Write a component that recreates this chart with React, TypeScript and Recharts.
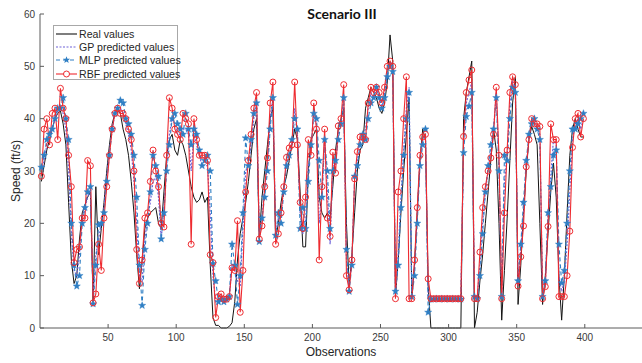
import { Line, LineChart, XAxis, YAxis } from "recharts";

// every 2nd observation, starting at 1
const real = [
  28, 31, 34, 36, 38, 40, 41, 41.5, 39, 35,
  24, 13, 8.5, 10, 17, 22, 23.5, 25, 26, 5,
  27, 14, 19, 24, 30, 35, 39, 41, 41.5, 41,
  38, 36, 33, 28, 22, 14, 7.5, 13, 19, 21,
  22, 22.5, 23, 20, 19, 26, 33, 36, 37, 34,
  33, 36, 35, 33, 30, 27, 25, 24, 24.5, 26,
  24, 25, 12, 2, 0.5, 0.5, 0, 0, 0, 0.3,
  1, 5, 13, 18, 21, 24, 28, 33, 38, 40,
  17, 25, 30, 35, 40, 42, 17, 20, 24, 27,
  29, 32, 35, 38, 36, 26, 15.5, 15.5, 30, 36,
  37, 38, 25, 22, 21, 22, 21, 27, 34, 38,
  40, 42, 20, 8, 14, 22, 30, 34, 35, 42,
  44, 46, 45, 44, 42, 41, 43, 47, 56, 51,
  6, 13, 22, 30, 37, 44, 5.6, 12, 22, 32,
  38, 36, 8, 0, 0, 0, 0, 0, 0, 0,
  0, 0, 0, 0, 0, 40, 45, 48, 51, 0,
  3, 9, 14, 20, 26, 32, 38, 34, 20, 1.5,
  11, 21, 32, 43, 48, 4.5, 12, 22, 30, 36,
  38.5, 37, 35, 20, 4.5, 10, 18, 26, 31.5, 25,
  10, 1.5, 10, 22, 33, 38, 40, 38, 36.5, 36.5,
];

const gp = [
  29.5, 32, 35, 36.5, 38, 40, 41.5, 42, 41, 38,
  30, 18, 11, 10, 14, 21, 23, 25, 26.5, 6,
  14, 17, 20, 23, 29, 34, 38, 41, 42, 42,
  41, 39, 37, 34, 28, 20, 10, 9, 17, 21,
  24, 28, 29, 25, 17, 23, 31, 37, 40, 39,
  37, 37, 38, 38, 37, 30, 37, 35, 33, 31,
  31, 31, 22, 10, 5, 5.5, 6, 5.5, 5.5, 6,
  12, 11, 9, 8, 19, 30, 31, 35, 40, 43,
  18, 21, 27, 31, 40, 44, 18, 21, 22, 27,
  31, 33, 35, 42, 37, 22, 18, 20, 31, 34,
  41, 39, 20, 25, 36, 26, 16, 31, 31, 37,
  39, 44, 13, 8, 13, 28, 32, 35, 37, 38,
  42, 45, 44, 46, 44, 42, 45, 49, 51, 50,
  6, 14, 25, 34, 42, 46, 5.8, 12, 22, 32,
  36, 37, 6, 5.6, 5.6, 5.6, 5.6, 5.6, 5.6, 5.6,
  5.6, 5.6, 5.6, 5.6, 5.6, 35, 43, 45, 47, 5.8,
  5.6, 12, 20, 26, 30, 34, 38, 45, 31, 5.8,
  28, 33, 43, 47, 46, 8, 15, 22, 31, 36,
  40, 40, 38, 37, 5.8, 8.5, 21, 29, 36, 35,
  10, 7, 9, 16, 26, 36, 39, 40, 38, 40,
];

const mlp = [
  30.7, 33, 36, 37, 38, 40, 42, 42, 44, 40,
  36, 20, 12, 8, 10, 20, 23, 26, 27, 4.6,
  12, 19.7, 20, 22, 28, 33, 38, 41, 42, 43.5,
  43, 40, 39, 37, 33, 25, 12, 4.3, 15, 20,
  26, 33, 31, 29, 17, 22, 30, 35, 40, 41,
  39, 38, 37, 41, 38, 35, 38, 37, 34, 31,
  32, 33, 30, 12.3, 9, 5, 5.5, 5, 5.5, 6,
  16, 12, 4.5, 10, 22, 36.3, 31, 36, 41, 43,
  16.5, 21, 25, 30, 38, 44, 17.7, 22, 20, 26,
  31, 33, 36, 40, 38, 19, 23, 19, 28, 35,
  41, 40, 32, 25, 36, 30, 19, 30, 32, 36,
  39, 44, 15, 7, 12, 29, 31, 35, 37, 36,
  40, 43, 44, 46, 44, 42, 44, 48, 50, 49,
  7, 12, 23, 33, 40, 45, 6, 10, 20, 31,
  35, 38, 3, 5.5, 5.5, 5.6, 5.5, 5.6, 5.5, 5.6,
  5.5, 5.6, 5.5, 5.6, 5.5, 33.5, 40.4, 42.4, 45, 6,
  5.6, 10, 18, 26, 31, 35, 38, 44, 30, 6,
  33, 32, 40, 46, 45, 9, 16, 24, 32, 37,
  39, 40, 38, 36, 6, 9, 22, 27, 33, 34,
  16, 8.6, 11, 20, 30, 38, 38, 39, 40, 41,
];

const rbf = [
  29, 38, 40, 35, 41, 42, 36, 45.8, 42, 40,
  33, 27, 12.5, 15, 15.5, 21, 21, 32, 31, 4.8,
  6.5, 16, 11, 21, 27, 33, 38, 41, 42, 41,
  41, 40, 38, 36, 30, 15, 8.5, 13, 21, 22,
  28, 34, 30, 27, 20, 19.3, 33, 44, 42, 38,
  37, 36, 41, 40, 39, 16, 40, 36, 33, 33,
  33, 32, 14, 12.5, 2, 6, 6.5, 5.5, 5.5, 6,
  11.5, 11, 20.5, 3, 11, 26, 32, 37, 42, 45,
  17, 19.5, 27, 32.5, 43, 47, 16, 18, 22, 27,
  32.6, 34.4, 35, 47, 35, 24, 19, 25, 36, 33,
  43, 38, 13, 27, 38, 21, 17.5, 33.6, 29.6, 38.6,
  40, 46.5, 10, 7.3, 13, 28.5, 33.7, 36.5, 36.5, 36,
  43, 46, 45, 46, 45, 43, 46, 50, 51, 50,
  5.6, 26, 30, 40, 48, 5.6, 5.6, 13, 23, 33,
  36.5, 37, 9.4, 5.6, 5.6, 5.6, 5.6, 5.6, 5.6, 5.6,
  5.6, 5.6, 5.6, 5.6, 5.6, 36.6, 45, 47.4, 49.3, 5.6,
  5.6, 14.5, 23, 27, 30, 32.5, 37, 46, 33, 5.6,
  22, 34, 45, 48, 46.5, 8, 13.6, 19.5, 30.8, 36,
  40, 39, 39, 38.5, 5.6, 7.9, 19.4, 39, 36, 36,
  6, 6, 6, 10, 18.5, 34.5, 40, 41, 36.5, 40,
];

const xTicks = [50, 100, 150, 200, 250, 300, 350, 400];
const yTicks = [0, 10, 20, 30, 40, 50, 60];

const data = real.map((v, i) => ({
  obs: 1 + 2 * i,
  real: v,
  gp: gp[i],
  mlp: mlp[i],
  rbf: rbf[i],
}));

const AXIS = "#5a5a5a";
const TEXT = "#3a3a3a";
const FONT = '"Liberation Sans", Arial, Helvetica, sans-serif';
const C_REAL = "#151515";
const C_GP = "#6f63d8";
const C_MLP = "#2f7fc4";
const C_RBF = "#ee2b30";

function starPath(cx: number, cy: number, r: number) {
  const pts: string[] = [];
  for (let k = 0; k < 10; k++) {
    const rad = k % 2 === 0 ? r : r * 0.42;
    const a = -Math.PI / 2 + (k * Math.PI) / 5;
    pts.push(`${cx + rad * Math.cos(a)},${cy + rad * Math.sin(a)}`);
  }
  return `M${pts.join("L")}Z`;
}

function StarDot(props: any) {
  const { cx, cy, index } = props;
  if (cx == null || cy == null) return <g key={`s${index}`} />;
  return <path key={`s${index}`} d={starPath(cx, cy, 3.8)} fill={C_MLP} stroke={C_MLP} strokeWidth={0.4} />;
}

function CircleDot(props: any) {
  const { cx, cy, index } = props;
  if (cx == null || cy == null) return <g key={`c${index}`} />;
  return <circle key={`c${index}`} cx={cx} cy={cy} r={3} fill="none" stroke={C_RBF} strokeWidth={1} />;
}

function YTick(props: any) {
  const { x, y, payload } = props;
  const ax = x + 5;
  return (
    <g>
      <line x1={ax} x2={ax + 4} y1={y} y2={y} stroke={AXIS} />
      <text x={x} y={y} dy="0.36em" textAnchor="end" fontSize={10} fill={TEXT} fontFamily={FONT}>
        {payload.value}
      </text>
    </g>
  );
}

function XTick(props: any) {
  const { x, y, payload } = props;
  const ay = y - 5;
  return (
    <g>
      <line x1={x} x2={x} y1={ay} y2={ay - 4} stroke={AXIS} />
      <text x={x} y={y} dy="0.75em" textAnchor="middle" fontSize={10} fill={TEXT} fontFamily={FONT}>
        {payload.value}
      </text>
    </g>
  );
}

function LegendBox() {
  const rows = [
    { label: "Real values", color: C_REAL, dash: undefined, mark: null },
    { label: "GP predicted values", color: C_GP, dash: "2 1.5", mark: null },
    { label: "MLP predicted values", color: C_MLP, dash: "4 3", mark: "star" },
    { label: "RBF predicted values", color: C_RBF, dash: undefined, mark: "circle" },
  ];
  return (
    <div
      style={{
        position: "absolute",
        left: 53,
        top: 25,
        width: 125,
        height: 55,
        border: "1px solid #a8a8a8",
        background: "#fff",
        fontFamily: FONT,
        fontSize: 10.6,
        color: "#262626",
        boxSizing: "border-box",
        paddingTop: 1,
      }}
    >
      {rows.map((r) => (
        <div key={r.label} style={{ display: "flex", alignItems: "center", height: 13.3 }}>
          <svg width={25} height={12} style={{ flex: "none" }}>
            <line x1={2} x2={23} y1={6} y2={6} stroke={r.color} strokeWidth={1.1} strokeDasharray={r.dash} />
            {r.mark === "star" && <path d={starPath(12.5, 6, 3.8)} fill={r.color} />}
            {r.mark === "circle" && <circle cx={12.5} cy={6} r={3} fill="#fff" stroke={r.color} />}
          </svg>
          <span style={{ marginLeft: 0, whiteSpace: "nowrap" }}>{r.label}</span>
        </div>
      ))}
    </div>
  );
}

export default function App() {
  return (
    <div style={{ position: "relative", width: 642, height: 363, background: "#fff" }}>
      <style>{"body{margin:0;background:#fff}"}</style>
      <LineChart width={642} height={363} data={data} margin={{ top: 14, right: 0, bottom: 0, left: 0 }}>
        <XAxis
          dataKey="obs"
          type="number"
          domain={[0, 442]}
          ticks={xTicks}
          interval={0}
          height={35}
          stroke={AXIS}
          tickLine={false}
          tickSize={0}
          tickMargin={5}
          tick={<XTick />}
        />
        <YAxis
          type="number"
          domain={[0, 60]}
          ticks={yTicks}
          interval={0}
          width={40}
          stroke={AXIS}
          tickLine={false}
          tickSize={0}
          tickMargin={5}
          tick={<YTick />}
        />
        <Line dataKey="real" stroke={C_REAL} strokeWidth={1} dot={false} isAnimationActive={false} />
        <Line
          dataKey="gp"
          stroke={C_GP}
          strokeWidth={1.2}
          strokeDasharray="2 1.5"
          dot={false}
          isAnimationActive={false}
        />
        <Line
          dataKey="mlp"
          stroke={C_MLP}
          strokeWidth={1.1}
          strokeDasharray="4 3"
          dot={StarDot}
          isAnimationActive={false}
        />
        <Line dataKey="rbf" stroke={C_RBF} strokeWidth={1.1} dot={CircleDot} isAnimationActive={false} />
      </LineChart>
      <div
        style={{
          position: "absolute",
          left: 0,
          width: 684,
          top: 6,
          textAlign: "center",
          fontFamily: "Lato, 'Open Sans', sans-serif",
          fontWeight: 700,
          fontSize: 14,
          color: "#111",
          lineHeight: "16px",
        }}
      >
        Scenario III
      </div>
      <div
        style={{
          position: "absolute",
          left: 40,
          width: 602,
          top: 345,
          textAlign: "center",
          fontFamily: FONT,
          fontSize: 12,
          color: "#262626",
          lineHeight: "14px",
        }}
      >
        Observations
      </div>
      <div
        style={{
          position: "absolute",
          left: 16,
          top: 171,
          transform: "translate(-50%, -50%) rotate(-90deg)",
          fontFamily: FONT,
          fontSize: 12,
          color: "#262626",
          whiteSpace: "nowrap",
          lineHeight: "14px",
        }}
      >
        Speed (ft/s)
      </div>
      <LegendBox />
    </div>
  );
}
